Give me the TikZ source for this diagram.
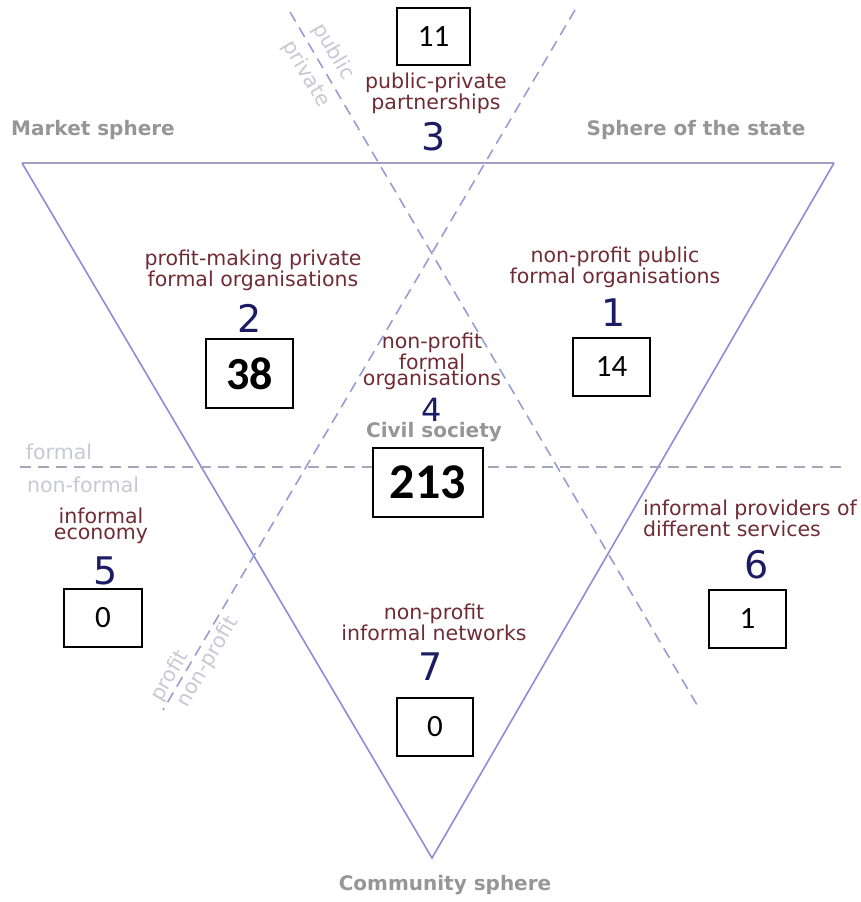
\documentclass[tikz,border=0pt]{standalone}
\usepackage{fontspec}
\setmainfont{DejaVu Sans}
\newfontfamily\labfont{DejaVu Sans}
\newfontfamily\numfont{Carlito}
\definecolor{maroonlab}{RGB}{112,44,54}
\definecolor{navydig}{RGB}{28,28,100}
\definecolor{spheregray}{RGB}{150,150,150}
\definecolor{lightlab}{RGB}{200,200,212}
\definecolor{triline}{RGB}{140,140,215}
\definecolor{topline}{RGB}{160,160,195}
\definecolor{diagline}{RGB}{150,158,212}
\definecolor{formline}{RGB}{165,165,188}
\begin{document}
\begin{tikzpicture}[x=1pt,y=-1pt,
  lab/.style={font=\labfont\fontsize{20.5}{16}\selectfont, text=maroonlab, align=center, inner sep=0pt},
  dig/.style={font=\labfont\fontsize{38}{38}\selectfont, text=navydig, inner sep=0pt},
  sphere/.style={font=\bfseries\fontsize{20}{20}\selectfont, text=spheregray, inner sep=0pt},
  lightlab/.style={font=\fontsize{20.5}{20.5}\selectfont, text=lightlab, inner sep=0pt},
  numbox/.style={draw=black, line width=1.2pt, fill=white, inner sep=0pt, font=\numfont\fontsize{31}{31}\selectfont},
  bignum/.style={numbox, font=\numfont\bfseries\fontsize{46}{46}\selectfont},
  dashline/.style={dash pattern=on 11pt off 7pt, line width=1.6pt}
]
\useasboundingbox (0,0) rectangle (861,902);

% coordinates
\coordinate (tl) at (22,163);
\coordinate (tr) at (834,163);
\coordinate (bt) at (432,858);
\coordinate (a1) at (290,12);
\coordinate (a2) at (700,710);
\coordinate (b1) at (575,10);
\coordinate (b2) at (163,710);
\coordinate (f1) at (20,467);
\coordinate (f2) at (845,467);

% triangle
\draw[topline, line width=1.8pt] (tl) -- (tr);
\draw[triline, line width=1.6pt] (tr) -- (bt) -- (tl);

% dashed lines
\draw[diagline, dashline] (a1) -- (a2);
\draw[diagline, dashline] (b1) -- (b2);
\draw[formline, dashline] (f1) -- (f2);

% sphere labels
\node[sphere] (market) at (93,130) {Market sphere};
\node[sphere] (state) at (696,130) {Sphere of the state};
\node[sphere] (civil) at (434,432) {Civil society};
\node[sphere] (community) at (445,885) {Community sphere};

% light labels
\node[lightlab] (formal) at (59,452) {formal};
\node[lightlab] (nonformal) at (83,485) {non-formal};
\node[lightlab, rotate=-59.57] (public) at (333,52) {public};
\node[lightlab, rotate=-59.57] (private) at (306,74) {private};
\node[lightlab, rotate=59.5] (profit) at (170,676) {profit};
\node[lightlab, rotate=59.5] (nonprofit) at (208,662) {non-profit};

% region 3
\node[numbox, minimum width=73pt, minimum height=57pt] (box3) at (433.5,36.5) {11};
\node[lab] (lab3) at (436,93) {public-private\\partnerships};
\node[dig] (dig3) at (434,137) {3};

% region 2
\node[lab] (lab2) at (253,270) {profit-making private\\formal organisations};
\node[dig] (dig2) at (250,318) {2};
\node[bignum, minimum width=87pt, minimum height=69pt] (box2) at (249.5,373.5) {38};

% region 1
\node[lab] (lab1) at (615,267) {non-profit public\\formal organisations};
\node[dig] (dig1) at (614,313) {1};
\node[numbox, minimum width=77pt, minimum height=58pt] (box1) at (611.5,367) {14};

% region 4
\node[lab] (lab4) at (432,361) {non-profit\\formal\\organisations};
\node[dig, font=\labfont\fontsize{32}{32}\selectfont] (dig4) at (432,410) {4};
\node[bignum, minimum width=110pt, minimum height=69pt, font=\numfont\bfseries\fontsize{50}{50}\selectfont] (box4) at (428,482.5) {213};

% region 5
\node[lab] (lab5) at (101,526) {informal\\economy};
\node[dig] (dig5) at (106,571) {5};
\node[numbox, minimum width=78pt, minimum height=58pt] (box5) at (103,618) {0};

% region 6
\node[lab, anchor=west, align=left] (lab6) at (643,518) {informal providers of\\different services};
\node[dig] (dig6) at (757,565) {6};
\node[numbox, minimum width=77pt, minimum height=58pt] (box6) at (747.5,619) {1};

% region 7
\node[lab] (lab7) at (434,622) {non-profit\\informal networks};
\node[dig] (dig7) at (431,667) {7};
\node[numbox, minimum width=76pt, minimum height=58pt] (box7) at (435,727) {0};
\end{tikzpicture}
\end{document}
